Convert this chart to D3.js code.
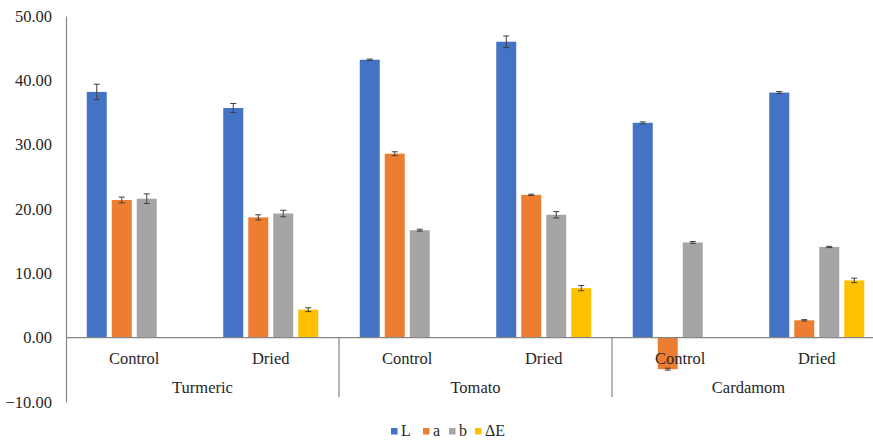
<!DOCTYPE html>
<html>
<head>
<meta charset="utf-8">
<script src="https://cdn.jsdelivr.net/npm/d3@7"></script>
<style>
  html, body { margin: 0; padding: 0; background: #fff; }
  svg { display: block; }
</style>
</head>
<body>
<svg id="chart" width="873" height="440"></svg>
<script>
// Colour measurements (mean ± SD) per sample and treatment
const categories = ["Turmeric", "Tomato", "Cardamom"];
const treatments = ["Control", "Dried"];
const series = ["L", "a", "b", "ΔE"];

// order: Turmeric Control, Turmeric Dried, Tomato Control, Tomato Dried, Cardamom Control, Cardamom Dried
const valuesL  = [38.2, 35.7, 43.2, 46.0, 33.4, 38.1];
const errL     = [1.2, 0.7, 0.1, 0.9, 0.15, 0.15];
const valuesA  = [21.4, 18.7, 28.6, 22.2, -4.9, 2.7];
const errA     = [0.45, 0.4, 0.3, 0.1, 0.15, 0.1];
const valuesB  = [21.6, 19.3, 16.7, 19.1, 14.8, 14.1];
const errB     = [0.75, 0.5, 0.15, 0.5, 0.15, 0.1];
const valuesDE = [null, 4.35, null, 7.7, null, 8.9];
const errDE    = [null, 0.3, null, 0.4, null, 0.35];

const yTicks = [-10, 0, 10, 20, 30, 40, 50];
const colors = ["#4472C4", "#ED7D31", "#A5A5A5", "#FFC000"];

const FONT = "'Liberation Serif', 'DejaVu Serif', serif";
const TEXT_COLOR = "#262626";

const seriesValues = [valuesL, valuesA, valuesB, valuesDE];
const seriesErrors = [errL, errA, errB, errDE];

const rows = [];
categories.forEach((cat, ci) => {
  treatments.forEach((tr, ti) => {
    const idx = ci * treatments.length + ti;
    series.forEach((s, si) => {
      const v = seriesValues[si][idx];
      if (v !== null) rows.push({ cat, tr, s, v, e: seriesErrors[si][idx] });
    });
  });
});

const svg = d3.select("#chart");
const plotLeft = 66, plotRight = 885, plotTop = 16, plotBottom = 402;

const y = d3.scaleLinear().domain([-10, 50]).range([plotBottom, plotTop]);
const x0 = d3.scaleBand().domain(categories).range([plotLeft, plotRight]);
const x1 = d3.scaleBand().domain(treatments).range([0, x0.bandwidth()]);
const x2 = d3.scaleBand().domain(series).range([0, x1.bandwidth()])
  .paddingInner(0.2).paddingOuter(0.83);
const color = d3.scaleOrdinal().domain(series).range(colors);

function styleText(sel, size) {
  sel.style("font-family", FONT).style("font-size", size + "px").style("fill", TEXT_COLOR);
}

// Y axis
const yAxis = svg.append("g")
  .attr("transform", `translate(${plotLeft},0)`)
  .call(d3.axisLeft(y).tickValues(yTicks).tickFormat(d3.format(".2f")).tickSize(0).tickPadding(14));
yAxis.select(".domain").attr("stroke", "#868686").attr("stroke-width", 1.2);
styleText(yAxis.selectAll("text"), 16.5);

// Bars
const barX = d => x0(d.cat) + x1(d.tr) + x2(d.s);
svg.append("g").selectAll("rect").data(rows).join("rect")
  .attr("x", barX)
  .attr("width", x2.bandwidth())
  .attr("y", d => y(Math.max(0, d.v)))
  .attr("height", d => Math.abs(y(d.v) - y(0)))
  .attr("fill", d => color(d.s));

// Error bars
const eb = svg.append("g").attr("stroke", "#404040").attr("stroke-width", 1);
rows.forEach(d => {
  const cx = barX(d) + x2.bandwidth() / 2;
  const y1 = y(d.v + d.e), y2 = y(d.v - d.e);
  eb.append("line").attr("x1", cx).attr("x2", cx).attr("y1", y1).attr("y2", y2);
  eb.append("line").attr("x1", cx - 3).attr("x2", cx + 3).attr("y1", y1).attr("y2", y1);
  eb.append("line").attr("x1", cx - 3).attr("x2", cx + 3).attr("y1", y2).attr("y2", y2);
});

// Category axis at zero
const zeroY = y(0);
svg.append("line")
  .attr("x1", plotLeft).attr("x2", plotRight)
  .attr("y1", zeroY).attr("y2", zeroY)
  .attr("stroke", "#868686").attr("stroke-width", 1.2);

// Group separators
categories.slice(1).concat([null]).forEach(c => {
  const xx = c === null ? plotRight : x0(c);
  svg.append("line")
    .attr("x1", xx).attr("x2", xx)
    .attr("y1", zeroY).attr("y2", 397)
    .attr("stroke", "#868686").attr("stroke-width", 1.2);
});

// Treatment and sample labels
categories.forEach(cat => {
  treatments.forEach(tr => {
    svg.append("text")
      .attr("x", x0(cat) + x1(tr) + x1.bandwidth() / 2)
      .attr("y", 364)
      .attr("text-anchor", "middle")
      .call(styleText, 16.5)
      .text(tr);
  });
  svg.append("text")
    .attr("x", x0(cat) + x0.bandwidth() / 2)
    .attr("y", 393)
    .attr("text-anchor", "middle")
    .call(styleText, 16.5)
    .text(cat);
});

// Legend
const legendX = [391, 423, 449, 475];
const legend = svg.append("g");
series.forEach((s, i) => {
  legend.append("rect")
    .attr("x", legendX[i]).attr("y", 428)
    .attr("width", 6.5).attr("height", 6.5)
    .attr("fill", color(s));
  legend.append("text")
    .attr("x", legendX[i] + 10).attr("y", 435.5)
    .call(styleText, 16)
    .text(s);
});
</script>
</body>
</html>
